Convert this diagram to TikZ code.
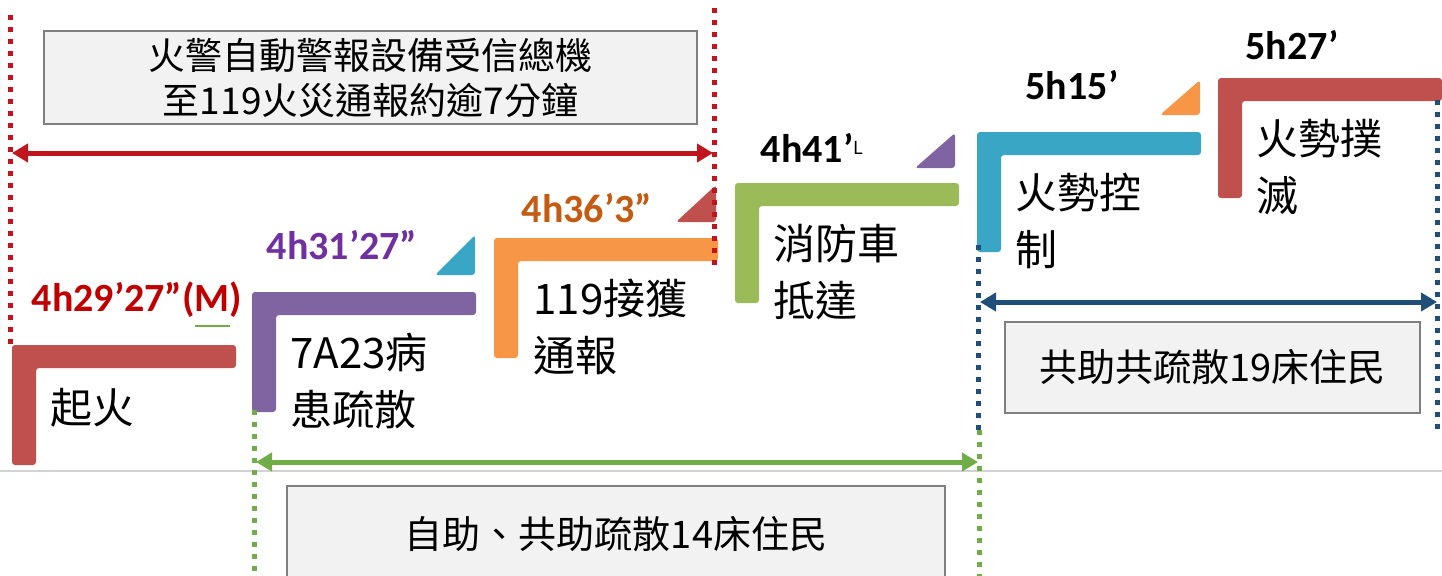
\documentclass[tikz,border=0pt]{standalone}
\usepackage{fontspec}
\setmainfont{Noto Sans CJK TC}
\newfontfamily\timefont{Carlito}
\usetikzlibrary{arrows.meta}

\definecolor{stepred}{HTML}{C0504D}
\definecolor{steppurple}{HTML}{8064A2}
\definecolor{steporange}{HTML}{F79646}
\definecolor{stepgreen}{HTML}{9BBB59}
\definecolor{stepteal}{HTML}{3AA6C6}
\definecolor{labelred}{HTML}{C00000}
\definecolor{labelpurple}{HTML}{7030A0}
\definecolor{labelorange}{HTML}{C55A11}
\definecolor{spanred}{HTML}{C0141E}
\definecolor{spanblue}{HTML}{1F4E79}
\definecolor{spangreen}{HTML}{70AD47}
\definecolor{boxfill}{HTML}{F2F2F2}
\definecolor{boxline}{HTML}{7F7F7F}

\begin{document}
\begin{tikzpicture}[x=0.5pt, y=-0.5pt,
    bar/.style={rounded corners=1.5pt},
    steptext/.style={anchor=base west, align=left, inner sep=0pt, font=\fontsize{21}{28.5}\selectfont},
    timetext/.style={inner sep=0pt, font=\timefont\bfseries\fontsize{20}{24}\selectfont},
    infobox/.style={draw=boxline, fill=boxfill, line width=1pt, align=center, font=\fontsize{18.5}{22.5}\selectfont},
    span/.style={{Triangle[length=8pt,width=9pt]}-{Triangle[length=8pt,width=9pt]}, line width=2.5pt}
  ]
    \useasboundingbox (0,0) rectangle (1442,575);

    % steps
    \foreach \col/\x/\y in {stepred/12/345, steppurple/252/292, steporange/494/238, stepgreen/735/183, stepteal/977/132, stepred/1218/78}
        \fill[\col, bar] (\x,\y) -- ++(224,0) -- ++(0,23) -- ++(-200,0) -- ++(0,97) -- ++(-24,0) -- cycle;

    \fill[stepteal, bar] (475,235) -- (475,275) -- (435,275) -- cycle;
    \fill[stepred, bar] (716,185) -- (716,222) -- (676,222) -- cycle;
    \fill[steppurple, bar] (955,133) -- (955,168) -- (915,168) -- cycle;
    \fill[steporange, bar] (1200,80) -- (1200,115) -- (1160,115) -- cycle;

    % two-line texts sit on the baseline of their last line
    \node[steptext] (s1) at (50,423) {起火};
    \node[steptext] (s2) at (290,425) {7A23病\\患疏散};
    \node[steptext] (s3) at (533,371) {119接獲\\通報};
    \node[steptext] (s4) at (773,316) {消防車\\抵達};
    \node[steptext] (s5) at (1015,265) {火勢控\\制};
    \node[steptext] (s6) at (1256,211) {火勢撲\\滅};

    \node[timetext, labelred] (t1) at (137,300) {4h29’27”(M)};
    \draw[spangreen, line width=1pt] (195,326) -- (230,326);
    \node[timetext, labelpurple] (t2) at (342,245) {4h31’27”};
    \node[timetext, labelorange] (t3) at (587,208) {4h36’3”};
    \node[timetext] (t4) at (812,148) {4h41’\raisebox{4pt}{\normalfont\fontsize{9}{9}\selectfont L}};
    \node[timetext] (t5) at (1072,85) {5h15’};
    \node[timetext] (t6) at (1292,45) {5h27’};

    % boxes
    \node[infobox, minimum width=326.5pt, minimum height=44.5pt] (alarm) at (370.5,77.5) {火警自動警報設備受信總機\\至119火災通報約逾7分鐘};
    \node[infobox, minimum width=329pt, minimum height=48pt, font=\fontsize{19}{22.5}\selectfont] (self) at (616,534) {自助、共助疏散14床住民};
    \node[infobox, minimum width=207.5pt, minimum height=45.5pt, font=\fontsize{19}{22.5}\selectfont] (mutual) at (1212.5,367.5) {共助共疏散19床住民};

    \draw[gray!35, line width=0.6pt] (0,471) -- (1442,471);

    % dotted guides, one square at a time
    \foreach \gx/\gtop/\gbot/\gcol in {10/15/345/spanred, 714/8/262/spanred, 978/245/430/spanblue, 1437/100/425/spanblue, 254/410/575/spangreen, 979/430/575/spangreen}{
        \pgfmathtruncatemacro{\gn}{(\gbot-\gtop)/12}
        \foreach \k in {0,...,\gn}
            \fill[\gcol] (\gx-2.5,\gtop+12*\k) rectangle ++(5,5);
    }

    \coordinate (ra) at (12,153);
    \coordinate (rb) at (713,153);
    \coordinate (ba) at (980,302);
    \coordinate (bb) at (1437,302);
    \coordinate (ga) at (256,462);
    \coordinate (gb) at (978,462);
    \draw[span, spanred] (ra) -- (rb);
    \draw[span, spanblue] (ba) -- (bb);
    \draw[span, spangreen] (ga) -- (gb);
\end{tikzpicture}
\end{document}
